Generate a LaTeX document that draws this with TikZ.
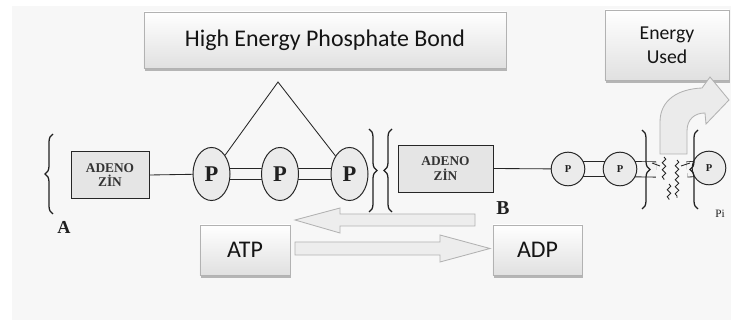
\documentclass[tikz,border=0pt]{standalone}
\usepackage{fontspec}
\setmainfont{Liberation Serif}
\newfontfamily\calibri{Carlito}
\usetikzlibrary{shadows,shapes.geometric,decorations.pathreplacing,decorations.pathmorphing}
\pgfdeclarelayer{bg}\pgfdeclarelayer{conn}\pgfsetlayers{bg,conn,main}
\begin{document}
\begin{tikzpicture}[x=0.025cm,y=-0.025cm,
  labelbox/.style={draw=gray!60, top color=white, bottom color=gray!24,
    drop shadow={shadow xshift=0.6pt, shadow yshift=-1.8pt, fill=gray!85, opacity=0.65},
    font=\calibri, text=black!92, inner sep=0, align=center},
  adeno/.style={draw=gray!30!black, line width=0.6pt, fill=gray!20, align=center, inner sep=0,
    font=\bfseries\fontsize{9.5}{10.5}\selectfont, text=gray!40!black, minimum height=1.175cm},
  bigP/.style={ellipse, draw=gray!30!black, fill=gray!16, line width=0.7pt,
    minimum width=0.925cm, minimum height=1.325cm, inner sep=0,
    font=\bfseries\fontsize{16}{16}\selectfont, text=gray!25!black},
  smallP/.style={circle, draw=gray!30!black, fill=gray!16, line width=0.7pt,
    minimum size=0.84cm, inner sep=0, font=\bfseries\fontsize{7.5}{8}\selectfont, text=gray!25!black},
  wire/.style={draw=gray!30!black, line width=0.6pt},
  bandbig/.style={draw=gray!30!black, line width=0.6pt, double=gray!8, double distance=0.25cm},
  bandsmall/.style={draw=gray!30!black, line width=0.6pt, double=gray!8, double distance=0.36cm},
  bracebig/.style={decorate, decoration={brace, amplitude=0.2cm}, draw=gray!25!black, line width=0.9pt},
  squig/.style={decorate, decoration={snake, segment length=5pt, amplitude=1.3pt}, draw=gray!30!black, line width=0.6pt},
  bigarrow/.style={draw=gray!60, fill=gray!14, line width=0.6pt},
  letter/.style={font=\bfseries, text=gray!25!black, inner sep=0}
]
\useasboundingbox (0,0) rectangle (731,320);
\begin{pgfonlayer}{bg}
\fill[white] (0,0) rectangle (731,320);
\fill[gray!6] (12,6) rectangle (731,320);
\end{pgfonlayer}

% label boxes
\node[labelbox, minimum width=9.05cm, minimum height=1.4cm, font=\calibri\fontsize{17}{20}\selectfont] (hebond) at (325,40) {High Energy Phosphate Bond};
\node[labelbox, minimum width=3.1cm, minimum height=1.75cm, font=\calibri\fontsize{14}{17}\selectfont] (used) at (667,45) {Energy\\Used};
\node[labelbox, minimum width=2.25cm, minimum height=1.25cm, font=\calibri\fontsize{17}{20}\selectfont] (atp) at (245,250) {ATP};
\node[labelbox, minimum width=2.225cm, minimum height=1.25cm, font=\calibri\fontsize{17}{20}\selectfont] (adp) at (537.5,250) {ADP};

% molecule A
\node[adeno, minimum width=1.95cm] (aden1) at (110,175) {ADENO\\Z\.{I}N};
\node[bigP] (P1) at (211.5,174) {P};
\node[bigP] (P2) at (280,174) {P};
\node[bigP] (P3) at (349.5,174) {P};
\coordinate (apex) at (278,82);

% molecule B
\node[adeno, minimum width=2.375cm] (aden2) at (445.5,168.5) {ADENO\\Z\.{I}N};
\node[smallP] (P4) at (568,169) {P};
\node[smallP] (P5) at (620,169) {P};
\node[smallP] (P6) at (709,168) {P};
\coordinate (brk1) at (656,169.5);
\coordinate (brk2) at (687,169.5);

\begin{pgfonlayer}{conn}
\draw[wire] (aden1.east) -- (P1.center);
\draw[bandbig] (P1.center) -- (P2.center);
\draw[bandbig] (P2.center) -- (P3.center);
\draw[wire] (aden2.east) -- (P4.center);
\draw[bandsmall] (P4.center) -- (P5.center);
\draw[bandsmall] (P5.center) -- (brk1);
\draw[bandsmall] (brk2) -- (P6.center);
\end{pgfonlayer}

% triangle to high energy bonds
\draw[wire] (P1) -- (apex) -- (P3);

% braces
\draw[bracebig] (53,214) -- (53,134);
\draw[bracebig] (369,129) -- (369,212);
\draw[bracebig] (392,212) -- (392,129);
\draw[bracebig] (642,130) -- (642,209);
\draw[bracebig] (698,209) -- (698,130);

% curved arrow (energy released)
\draw[bigarrow, fill=gray!16] (660,154) -- (660,122) .. controls (660,100) and (678,89) .. (702,88)
  -- (710,77) -- (729,100) -- (706,124) -- (705,113) .. controls (695,113) and (687,119) .. (687,131)
  -- (687,154) -- cycle;

% broken bond squiggles
\draw[squig] (664,157) -- (664,180);
\draw[squig] (677,160) -- (677,198);
\draw[squig] (669,184) -- (669,200);
\draw[wire] (652,163) -- (660,166);
\draw[wire] (681,166) -- (690,163);

% labels
\node[letter, font=\bfseries\fontsize{13}{13}\selectfont] (la) at (64,227) {A};
\node[letter, font=\bfseries\fontsize{14}{14}\selectfont] (lb) at (503,208) {B};
\node[letter, font=\fontsize{8}{8}\selectfont] (lpi) at (720,214) {Pi};

% reaction arrows
\draw[bigarrow] (295,220) -- (340,208) -- (340,214) -- (475,214) -- (475,226) -- (340,226) -- (340,233) -- cycle;
\draw[bigarrow] (295,242) -- (440,242) -- (440,235) -- (490,248.5) -- (440,262) -- (440,255) -- (295,255) -- cycle;
\end{tikzpicture}
\end{document}
